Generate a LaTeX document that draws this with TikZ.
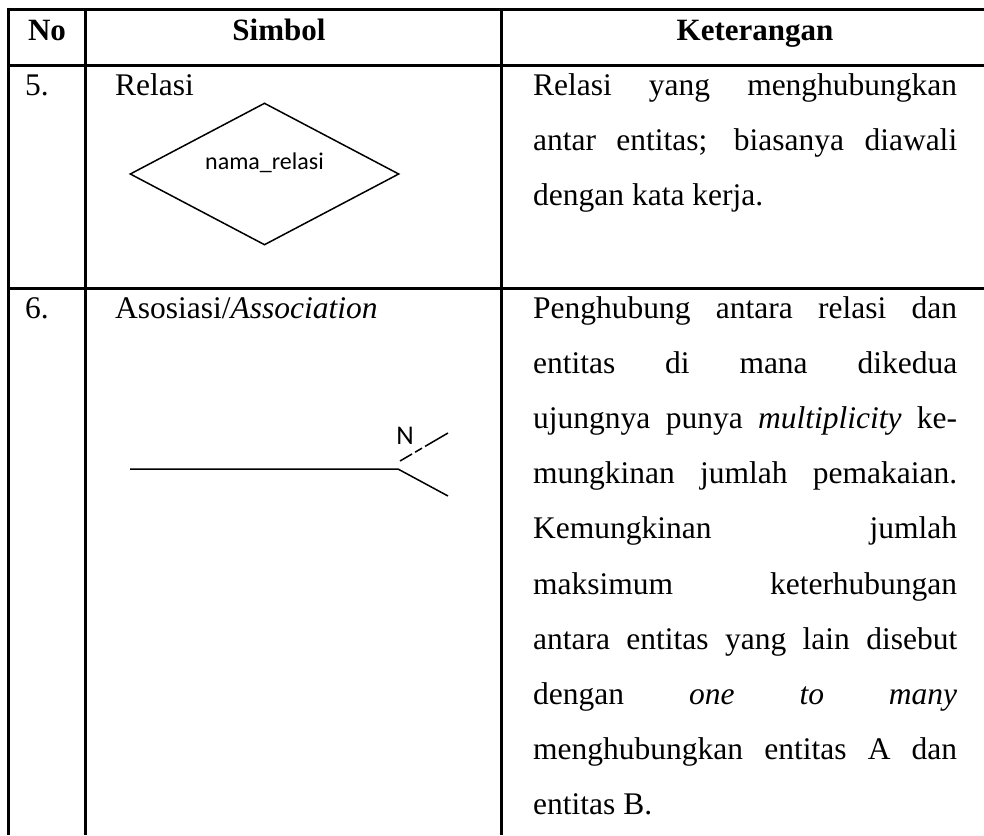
\documentclass[tikz,border=0pt]{standalone}
\usepackage{fontspec}
\setmainfont{Liberation Serif}
\newfontfamily\calibri{Carlito}
\usepackage{tikz}
\usetikzlibrary{shapes.geometric}

\begin{document}
\begin{tikzpicture}[x=1pt, y=-1pt,
    grid/.style={line width=3pt},
    sym/.style={line width=1.5pt},
    txt/.style={anchor=base west, inner sep=0pt, font=\fontsize{31.5}{36}\selectfont},
    head/.style={anchor=base, inner sep=0pt, font=\fontsize{31}{36}\selectfont\bfseries},
    small/.style={inner sep=0pt, font=\fontsize{24}{28}\selectfont\calibri}]
    \useasboundingbox (0,0) rectangle (984,835);
    % Table lines
    \draw[grid] (8.5,9) -- (984,9);
    \draw[grid] (8.5,65) -- (984,65);
    \draw[grid] (8.5,288) -- (984,288);
    \draw[grid] (8.5,7.5) -- (8.5,835);
    \draw[grid] (85,9) -- (85,835);
    \draw[grid] (501,9) -- (501,835);
    % Header
    \node[head] (hno) at (47,40) {No};
    \node[head] (hsim) at (279,40) {Simbol};
    \node[head] (hket) at (755,40) {Keterangan};
    % Row 5
    \node[txt] (no5) at (25,95) {5.};
    \node[txt] (sim5) at (115,95) {Relasi};
    \node[diamond, draw, sym, minimum width=269pt, minimum height=142pt,
          inner sep=0pt] (rel) at (264.5,174) {};
    \node[small] (relname) at ([yshift=11pt]rel.center) {nama\_relasi};
    \node[txt] (k51) at (533,95)
        {\makebox[424pt][s]{Relasi yang menghubungkan}};
    \node[txt] (k52) at (533,150.2)
        {\makebox[424pt][s]{antar entitas; biasanya diawali}};
    \node[txt] (k53) at (533,205.4) {dengan kata kerja.};
    % Row 6
    \node[txt] (no6) at (25,318) {6.};
    \node[txt] (sim6) at (115,318) {Asosiasi/\textit{Association}};
    \coordinate (a1) at (130,469);
    \coordinate (a2) at (398,469);
    \coordinate (a3) at (448,496);
    \coordinate (a4) at (400,461);
    \coordinate (a5) at (448,433);
    \draw[sym] (a1) -- (a2) -- (a3);
    \draw[sym, dash pattern=on 14pt off 3.5pt on 8pt off 3.5pt on 40pt] (a4) -- (a5);
    \node[small, font=\fontsize{27}{30}\selectfont\calibri] (mult) at (405,436) {N};
    \node[txt] (k61) at (533,318)
        {\makebox[424pt][s]{Penghubung antara relasi dan}};
    \node[txt] (k62) at (533,373.2)
        {\makebox[424pt][s]{entitas di mana dikedua}};
    \node[txt] (k63) at (533,428.4)
        {\makebox[424pt][s]{ujungnya punya \textit{multiplicity} ke-}};
    \node[txt] (k64) at (533,483.6)
        {\makebox[424pt][s]{mungkinan jumlah pemakaian.}};
    \node[txt] (k65) at (533,538.8)
        {\makebox[424pt][s]{Kemungkinan jumlah}};
    \node[txt] (k66) at (533,594)
        {\makebox[424pt][s]{maksimum keterhubungan}};
    \node[txt] (k67) at (533,649.2)
        {\makebox[424pt][s]{antara entitas yang lain disebut}};
    \node[txt] (k68) at (533,704.4)
        {\makebox[424pt][s]{dengan \textit{one} \textit{to} \textit{many}}};
    \node[txt] (k69) at (533,759.6)
        {\makebox[424pt][s]{menghubungkan entitas A dan}};
    \node[txt] (k610) at (533,814.8) {entitas B.};
\end{tikzpicture}
\end{document}
